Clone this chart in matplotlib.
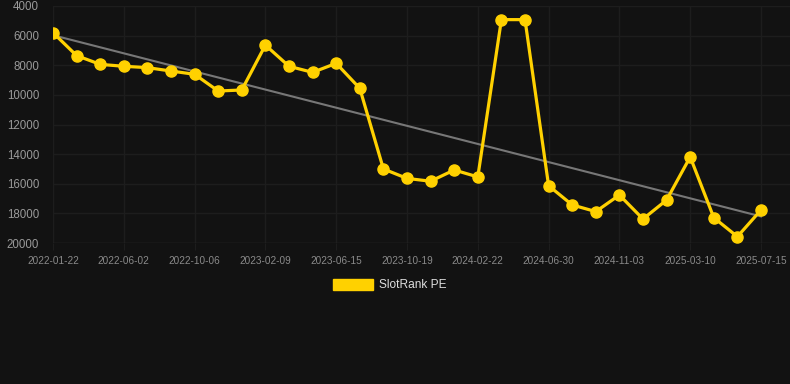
import matplotlib
matplotlib.use("Agg")
import matplotlib.pyplot as plt
import numpy as np

plt.rcParams['font.family'] = ['Liberation Sans', 'DejaVu Sans']

tick_labels = ["2022-01-22", "2022-06-02", "2022-10-06", "2023-02-09", "2023-06-15",
               "2023-10-19", "2024-02-22", "2024-06-30", "2024-11-03", "2025-03-10",
               "2025-07-15"]
values = [5800, 7350, 7940, 8070, 8160, 8390, 8610, 9740, 9670, 6640,
          8070, 8480, 7870, 9560, 15000, 15640, 15830, 15070, 15540, 4920,
          4920, 16130, 17430, 17880, 16760, 18380, 17100, 14190, 18290, 19570,
          17770]
series_name = "SlotRank PE"
y_ticks = [4000, 6000, 8000, 10000, 12000, 14000, 16000, 18000, 20000]

bg = "#121212"
fig = plt.figure(figsize=(7.9, 3.84), dpi=100, facecolor=bg)
ax = fig.add_axes([53/790, (384-243)/384, 1 - 53/790, (243-6)/384])
ax.set_facecolor(bg)

x = np.arange(len(values))
# trend line (least squares)
coef = np.polyfit(x, values, 1)
ax.plot([x[0], x[-1]], np.polyval(coef, [x[0], x[-1]]), color="#777777", lw=1.5, zorder=2)

ax.plot(x, values, color="#FFD100", lw=2.3, marker="o", markersize=8,
        markerfacecolor="#FFD100", markeredgecolor="#FFD100", zorder=3, label=series_name)

ax.set_ylim(20000, 4000)
ax.set_yticks(y_ticks)
ax.set_yticklabels([str(v) for v in y_ticks])
ax.set_xlim(0, 30 + 29/23.6)
tick_pos = list(range(0, len(values), 3))
ax.set_xticks(tick_pos)
ax.set_xticklabels(tick_labels)

ax.grid(True, color="#1d1d1d", lw=1)
ax.set_axisbelow(True)
for s in ax.spines.values():
    s.set_visible(False)
ax.tick_params(axis='y', length=0, pad=10, labelsize=8.3, labelcolor="#9a9a9a")
ax.tick_params(axis='x', length=5, color="#1d1d1d", pad=4, labelsize=7.2, labelcolor="#8a8a8a")
ax.axhline(20000, color="#282828", lw=1, zorder=1)

# legend
fig.patches.append(plt.Rectangle((333/790, 1 - 290/384), 40/790, 11/384,
                                 transform=fig.transFigure, color="#FFD100"))
fig.text(379/790, 1 - 285/384, series_name, color="#dddddd", fontsize=8.6,
         va="center", ha="left")

fig.savefig("out.png", dpi=100, facecolor=bg)
